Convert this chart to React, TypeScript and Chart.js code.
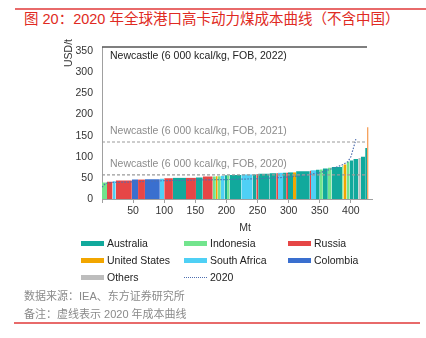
import React, { useEffect, useRef } from "react";
import { Chart, registerables } from "chart.js";
Chart.register(...registerables);

// ---- data ----
const countries = ["Australia", "Indonesia", "Russia", "United States", "South Africa", "Colombia", "Others"];
const countryColors = ["#11a99c", "#72e48d", "#e64646", "#f2a600", "#4fd0f5", "#3a6fcf", "#bdbdbd"];

// cost-curve segments (ordered): country, export volume (Mt), cash cost (USD/t)
const segCountry = [
  "Indonesia", "Russia", "South Africa", "Russia", "Colombia", "Russia", "Colombia", "South Africa",
  "Russia", "Australia", "Russia", "Australia", "Russia", "Indonesia", "United States", "Indonesia",
  "South Africa", "Australia", "Indonesia", "Australia", "South Africa", "Australia", "Russia", "Australia",
  "Australia", "Russia", "South Africa", "Australia", "Russia", "Australia", "United States", "Australia",
  "Russia", "South Africa", "Australia", "Indonesia", "Australia", "Indonesia", "Australia", "Indonesia",
  "United States", "Indonesia", "Australia", "Australia", "Others", "Australia", "Australia", "United States",
];
const segVolume = [
  8, 9, 5, 26, 10, 11, 24, 7,
  14, 21, 16, 11, 16, 5, 3, 5,
  6, 4, 4, 19, 18, 6, 3, 18,
  11, 3, 8, 5, 3, 8, 5, 22,
  2, 8, 6, 5, 8, 6, 17, 2,
  5, 5, 6, 8, 4, 7, 3, 2.5,
];
const segCost = [
  39, 41, 42, 44, 46, 46, 47, 48,
  49, 50, 50, 51, 53, 53, 54, 54,
  55, 56, 56, 57, 58, 58, 59, 60,
  61, 61, 62, 62, 62, 63, 63, 66,
  67, 68, 69, 70, 72, 74, 76, 78,
  82, 88, 91, 95, 97, 100, 121, 170,
];

// 2020 cost curve (dotted)
const curve2020X = [0, 5, 12, 40, 90, 150, 200, 250, 290, 320, 350, 370, 385, 395, 400, 403, 406, 408];
const curve2020Y = [28, 36, 39, 40, 43, 45, 46, 48, 51, 55, 62, 72, 80, 88, 100, 115, 130, 142];

// Newcastle benchmark prices
const benchYears = ["2022", "2021", "2020"];
const benchPrice = [360, 135, 57];
const benchEnd = 426;

const xMax = 434;
const yMax = 360;

const LATIN = '"Liberation Sans", Arial, sans-serif';
const CJK = '"Liberation Sans", "Noto Sans CJK SC", sans-serif';

export default function App() {
  const ref = useRef<HTMLCanvasElement | null>(null);

  useEffect(() => {
    document.body.style.margin = "0";
    const datasets: any[] = [];
    benchPrice.forEach((p, i) => {
      datasets.push({
        type: "line",
        data: [{ x: 0, y: p }, { x: benchEnd, y: p }],
        borderColor: i === 0 ? "#555555" : "#9a9a9a",
        borderWidth: i === 0 ? 1.5 : 1.2,
        borderDash: i === 0 ? [] : [3, 2],
        pointRadius: 0,
        fill: false,
        clip: false,
      });
    });
    datasets.push({
      type: "line",
      data: curve2020X.map((x, i) => ({ x, y: curve2020Y[i] })),
      borderColor: "#4f6fb0",
      borderWidth: 1.2,
      borderDash: [1.5, 1.5],
      pointRadius: 0,
      tension: 0,
      fill: false,
    });
    let cum = 0;
    segCountry.forEach((c, i) => {
      const x0 = cum;
      const x1 = cum + segVolume[i];
      cum = x1;
      const col = i === segCountry.length - 1 ? "#f5a05a" : countryColors[countries.indexOf(c)];
      datasets.push({
        type: "line",
        data: [{ x: x0, y: segCost[i] }, { x: x1, y: segCost[i] }],
        borderWidth: 0,
        borderColor: col,
        backgroundColor: col,
        pointRadius: 0,
        fill: "origin",
      });
    });

    const textPlugin = {
      id: "texts",
      afterDatasetsDraw(chart: any) {
        const { ctx, chartArea, scales } = chart;
        const y = scales.y;
        ctx.save();
        ctx.font = `10.5px ${LATIN}`;
        ctx.textBaseline = "middle";
        ctx.textAlign = "left";
        benchPrice.forEach((p, i) => {
          const py = y.getPixelForValue(p);
          ctx.fillStyle = i === 0 ? "#222222" : "#8c8c8c";
          ctx.fillText(
            `Newcastle (6 000 kcal/kg, FOB, ${benchYears[i]})`,
            chartArea.left + 8,
            i === 0 ? py + 9.5 : py - 10.5
          );
        });
        ctx.fillStyle = "#333333";
        ctx.textAlign = "center";
        ctx.fillText("Mt", (chartArea.left + chartArea.right) / 2 + 8, chartArea.bottom + 29);
        ctx.translate(chartArea.left - 33, chartArea.top + 6);
        ctx.rotate(-Math.PI / 2);
        ctx.fillText("USD/t", 0, 0);
        ctx.restore();
      },
    };

    const chart = new Chart(ref.current as HTMLCanvasElement, {
      type: "line",
      data: { datasets },
      plugins: [textPlugin],
      options: {
        animation: false,
        responsive: false,
        layout: { padding: { top: 17, right: 54, left: 0, bottom: 0 } },
        plugins: { legend: { display: false }, tooltip: { enabled: false } },
        scales: {
          x: {
            type: "linear",
            min: 0,
            max: xMax,
            afterFit: (s: any) => {
              s.height = 41;
            },
            border: { display: true, color: "#a0a0a0", width: 1 },
            grid: { display: true, drawOnChartArea: false, drawTicks: true, tickLength: 4, color: "#a0a0a0" },
            ticks: {
              stepSize: 50,
              includeBounds: false,
              padding: 2,
              color: "#333333",
              font: { size: 10.5, family: LATIN },
              maxRotation: 0,
              callback: (v: any) => (v === 0 ? "" : String(v)),
            },
          },
          y: {
            type: "linear",
            min: 0,
            max: yMax,
            afterFit: (s: any) => {
              s.width = 102;
            },
            border: { display: true, color: "#a0a0a0", width: 1 },
            grid: { display: false, drawTicks: false },
            ticks: {
              stepSize: 50,
              includeBounds: false,
              padding: 9,
              color: "#333333",
              font: { size: 10.5, family: LATIN },
            },
          },
        },
      },
    } as any);
    return () => chart.destroy();
  }, []);

  const legendItems = [
    ["Australia", "Indonesia", "Russia"],
    ["United States", "South Africa", "Colombia"],
    ["Others", "2020", ""],
  ];
  const colX = [81, 184, 288];
  const rowY = [243, 260, 277];

  return (
    <div style={{ position: "absolute", left: 0, top: 0, width: 426, height: 338, background: "#fff", overflow: "hidden" }}>
      <div style={{ position: "absolute", left: 15, top: 8, width: 411, height: 1.5, background: "#e86a6a" }} />
      <div
        style={{
          position: "absolute",
          left: 24,
          top: 9,
          fontFamily: CJK,
          fontSize: 14.5,
          lineHeight: "20px",
          color: "#e02a22",
          whiteSpace: "nowrap",
        }}
      >
        图 20：2020 年全球港口高卡动力煤成本曲线（不含中国）
      </div>
      <canvas ref={ref} width={426} height={210} style={{ position: "absolute", left: 0, top: 30, width: 426, height: 210 }} />
      {legendItems.map((row, r) =>
        row.map((name, c) => {
          if (!name) return null;
          const isLine = name === "2020";
          const col = isLine ? "#4f6fb0" : countryColors[countries.indexOf(name)];
          return (
            <React.Fragment key={name}>
              {isLine ? (
                <div
                  style={{
                    position: "absolute",
                    left: colX[c],
                    top: rowY[r] - 0.5,
                    width: 23,
                    height: 0,
                    borderTop: `1px dotted ${col}`,
                  }}
                />
              ) : (
                <div
                  style={{
                    position: "absolute",
                    left: colX[c],
                    top: rowY[r] - 2.5,
                    width: 23,
                    height: 5,
                    background: col,
                  }}
                />
              )}
              <div
                style={{
                  position: "absolute",
                  left: colX[c] + 26,
                  top: rowY[r] - 8,
                  lineHeight: "16px",
                  fontFamily: LATIN,
                  fontSize: 10.5,
                  color: "#222",
                  whiteSpace: "nowrap",
                }}
              >
                {name}
              </div>
            </React.Fragment>
          );
        })
      )}
      <div
        style={{
          position: "absolute",
          left: 24,
          top: 287,
          fontFamily: CJK,
          fontSize: 11,
          lineHeight: "18px",
          color: "#8a8a8a",
          whiteSpace: "nowrap",
        }}
      >
        数据来源：IEA、东方证券研究所
      </div>
      <div
        style={{
          position: "absolute",
          left: 24,
          top: 305,
          fontFamily: CJK,
          fontSize: 11,
          lineHeight: "18px",
          color: "#8a8a8a",
          whiteSpace: "nowrap",
        }}
      >
        备注：虚线表示 2020 年成本曲线
      </div>
      <div style={{ position: "absolute", left: 14, top: 322, width: 406, height: 1.5, background: "#e86a6a" }} />
    </div>
  );
}
